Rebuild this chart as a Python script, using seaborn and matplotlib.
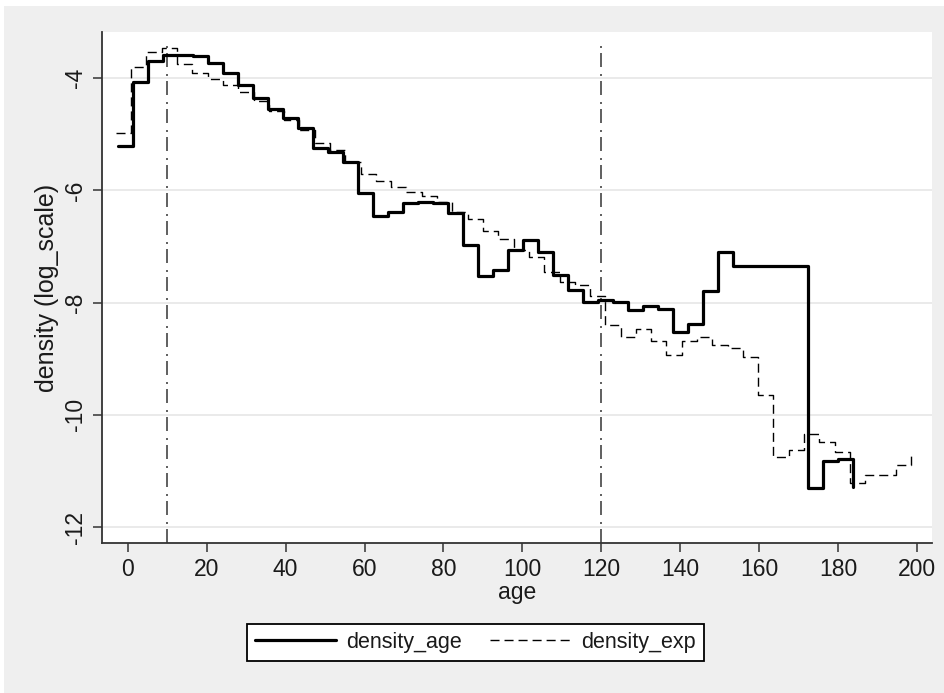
import matplotlib
matplotlib.use("Agg")
import matplotlib.pyplot as plt
import seaborn as sns
import pandas as pd
from matplotlib.patches import Rectangle

# ---- data ----
age_obs = [-2.5, 1.3, 5.1, 8.9, 12.7, 16.5, 20.3, 24.1, 27.9, 31.7, 35.5, 39.3,
           43.1, 46.9, 50.7, 54.5, 58.3, 62.1, 65.9, 69.7, 73.5, 77.3, 81.1, 84.9,
           88.7, 92.5, 96.3, 100.1, 103.9, 107.7, 111.5, 115.3, 119.1, 122.9, 126.7,
           130.5, 134.3, 138.1, 141.9, 145.7, 149.5, 153.3, 172.3, 176.1, 179.9, 183.7]
density_age = [-5.20, -4.07, -3.69, -3.58, -3.58, -3.61, -3.73, -3.91, -4.12, -4.36,
               -4.55, -4.71, -4.89, -5.25, -5.31, -5.49, -6.05, -6.45, -6.39, -6.23,
               -6.20, -6.23, -6.41, -6.97, -7.52, -7.42, -7.06, -6.88, -7.09, -7.51,
               -7.77, -7.98, -7.96, -7.98, -8.13, -8.06, -8.12, -8.53, -8.38, -7.80,
               -7.10, -7.34, -11.31, -10.82, -10.79, -11.29]

age_exp = [-3.0, 0.9, 4.75, 8.6, 12.5, 16.4, 20.25, 24.1, 28.0, 31.9, 35.75, 39.6,
           43.5, 47.4, 51.25, 55.1, 59.0, 62.9, 66.75, 70.6, 74.5, 78.4, 82.25, 86.1,
           90.0, 93.9, 97.75, 101.6, 105.5, 109.4, 113.25, 117.1, 121.0, 124.9, 128.75,
           132.6, 136.5, 140.4, 144.25, 148.1, 152.0, 155.9, 159.75, 163.6, 167.5,
           171.4, 175.25, 179.1, 183.0, 186.9, 190.75, 194.6, 198.5]
density_exp = [-4.97, -3.80, -3.53, -3.46, -3.75, -3.91, -4.02, -4.12, -4.25, -4.40,
               -4.58, -4.75, -4.92, -5.16, -5.28, -5.50, -5.71, -5.83, -5.94, -6.02,
               -6.10, -6.20, -6.38, -6.50, -6.72, -6.87, -7.06, -7.19, -7.45, -7.64,
               -7.68, -7.89, -8.40, -8.61, -8.47, -8.68, -8.93, -8.68, -8.61, -8.75,
               -8.80, -8.96, -9.64, -10.76, -10.63, -10.34, -10.48, -10.66, -11.22,
               -11.08, -11.08, -10.89, -10.73]

xticks = [0, 20, 40, 60, 80, 100, 120, 140, 160, 180, 200]
yticks = [-12, -10, -8, -6, -4]
ref_lines = [10, 120]

df_obs = pd.DataFrame({"age": age_obs, "density": density_age})
df_exp = pd.DataFrame({"age": age_exp, "density": density_exp})

# ---- style ----
sns.set_style("white")
plt.rcParams['font.family'] = ['Liberation Sans', 'DejaVu Sans']
TXT = '#1a1a1a'
AXC = '#333333'

fig = plt.figure(figsize=(9.44, 6.93), dpi=100)
fig.patch.set_facecolor('white')
fig.add_artist(Rectangle((4 / 944, 0), 1, 1 - 6 / 693, transform=fig.transFigure,
                         facecolor='#EFEFEF', edgecolor='none', zorder=-10))

ax = fig.add_axes([101.7 / 944, 1 - 543.3 / 693, 830 / 944, 511 / 693])
ax.set_facecolor('white')

sns.lineplot(data=df_obs, x="age", y="density", ax=ax, drawstyle='steps-post',
             color='black', lw=2.3, estimator=None, sort=False, label='density_age',
             zorder=4)
sns.lineplot(data=df_exp, x="age", y="density", ax=ax, drawstyle='steps-post',
             color='black', lw=1.0, linestyle=(0, (6.5, 3.6)), estimator=None,
             sort=False, label='density_exp', zorder=3)

for xv in ref_lines:
    ax.axvline(xv, ymin=0, ymax=0.973, color='#444444', lw=1.2,
               linestyle=(0, (8.4, 3, 1.2, 4.2)), zorder=2)

ax.set_xlim(-6.6, 203.7)
ax.set_ylim(-12.29, -3.18)
ax.set_xticks(xticks)
ax.set_xticklabels([str(v) for v in xticks])
ax.set_yticks(yticks)
ax.set_yticklabels([str(v) for v in yticks], rotation=90, va='center')

ax.yaxis.grid(True, color='#E6E6E6', lw=1.2)
ax.xaxis.grid(False)
ax.set_axisbelow(True)

for s in ['top', 'right']:
    ax.spines[s].set_visible(False)
for s in ['left', 'bottom']:
    ax.spines[s].set_color(AXC)
    ax.spines[s].set_linewidth(1.3)

ax.tick_params(axis='both', direction='out', length=6.5, width=1.1, color=AXC,
               labelsize=16.5, labelcolor=TXT, pad=4, left=True, bottom=True)

ax.set_xlabel('age', fontsize=16.5, color=TXT, labelpad=0)
ax.set_ylabel('density (log_scale)', fontsize=18, color=TXT, labelpad=4)

handles, labels = ax.get_legend_handles_labels()
ax.get_legend().remove()
leg = fig.legend(handles, labels, loc='center',
                 bbox_to_anchor=(475.5 / 944, 1 - 642.5 / 693), ncol=2,
                 frameon=True, fancybox=False, edgecolor='black', framealpha=1,
                 facecolor='white', handlelength=3.75, handletextpad=0.5,
                 columnspacing=1.3, fontsize=15.5, borderpad=0.35)
leg.get_frame().set_linewidth(1.3)
for t in leg.get_texts():
    t.set_color(TXT)

fig.savefig('out.png', dpi=100, facecolor=fig.get_facecolor())
